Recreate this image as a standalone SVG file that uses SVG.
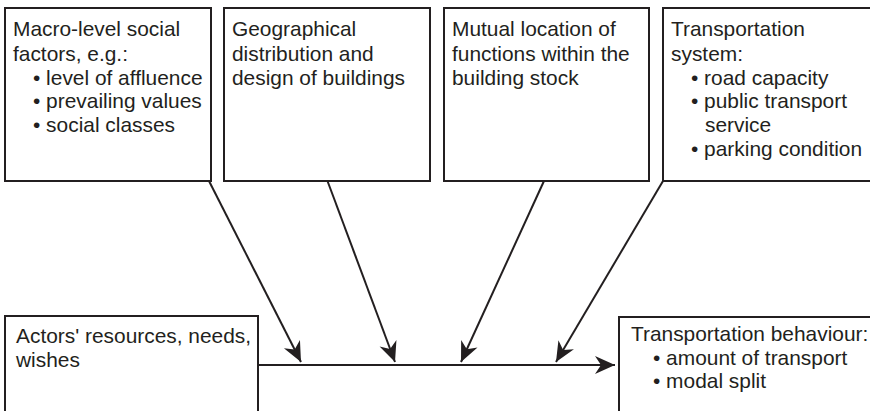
<svg xmlns="http://www.w3.org/2000/svg" width="870" height="411" viewBox="0 0 870 411">
<defs>
<style>
.box{fill:#fff;stroke:#231f20;stroke-width:2}
.t{font-family:"Liberation Sans",Arial,sans-serif;font-size:20.9px;fill:#231f20}
.c{stroke:#231f20;stroke-width:2;fill:none}
</style>
<marker id="ah" markerUnits="userSpaceOnUse" markerWidth="26" markerHeight="22" viewBox="-22 -11 26 22" refX="0" refY="0" orient="auto">
<path d="M0,0 L-20,-9 L-14,0 L-20,9 Z" fill="#231f20"/>
</marker>
</defs>
<rect width="870" height="411" fill="#fff"/>
<g id="connectors">
<line class="c" x1="209" y1="181" x2="301" y2="362" marker-end="url(#ah)"/>
<line class="c" x1="327.5" y1="181" x2="395" y2="362" marker-end="url(#ah)"/>
<line class="c" x1="544" y1="181" x2="461" y2="362" marker-end="url(#ah)"/>
<line class="c" x1="663" y1="181" x2="556" y2="362" marker-end="url(#ah)"/>
<line class="c" x1="258" y1="365" x2="615" y2="365" marker-end="url(#ah)"/>
</g>
<g id="macro">
<rect class="box" x="5" y="8" width="206" height="173"/>
<text class="t" x="13" y="36">Macro-level social</text>
<text class="t" x="13" y="61">factors, e.g.:</text>
<text class="t" x="33" y="85">• level of affluence</text>
<text class="t" x="33" y="108">• prevailing values</text>
<text class="t" x="33" y="132">• social classes</text>
</g>
<g id="geo">
<rect class="box" x="224" y="8" width="206" height="173"/>
<text class="t" x="232" y="36">Geographical</text>
<text class="t" x="232" y="61">distribution and</text>
<text class="t" x="232" y="85">design of buildings</text>
</g>
<g id="mutual">
<rect class="box" x="444" y="8" width="205" height="173"/>
<text class="t" x="452" y="36">Mutual location of</text>
<text class="t" x="452" y="61">functions within the</text>
<text class="t" x="452" y="85">building stock</text>
</g>
<g id="transport">
<rect class="box" x="663" y="8" width="212" height="173"/>
<text class="t" x="671" y="36">Transportation</text>
<text class="t" x="671" y="61">system:</text>
<text class="t" x="691" y="85">• road capacity</text>
<text class="t" x="691" y="108">• public transport</text>
<text class="t" x="705" y="132">service</text>
<text class="t" x="691" y="156">• parking condition</text>
</g>
<g id="actors">
<rect class="box" x="5" y="316" width="253" height="110"/>
<text class="t" x="16" y="343">Actors' resources, needs,</text>
<text class="t" x="16" y="367">wishes</text>
</g>
<g id="behaviour">
<rect class="box" x="619" y="317" width="260" height="110"/>
<text class="t" x="631" y="341">Transportation behaviour:</text>
<text class="t" x="653" y="365">• amount of transport</text>
<text class="t" x="653" y="388">• modal split</text>
</g>
</svg>
